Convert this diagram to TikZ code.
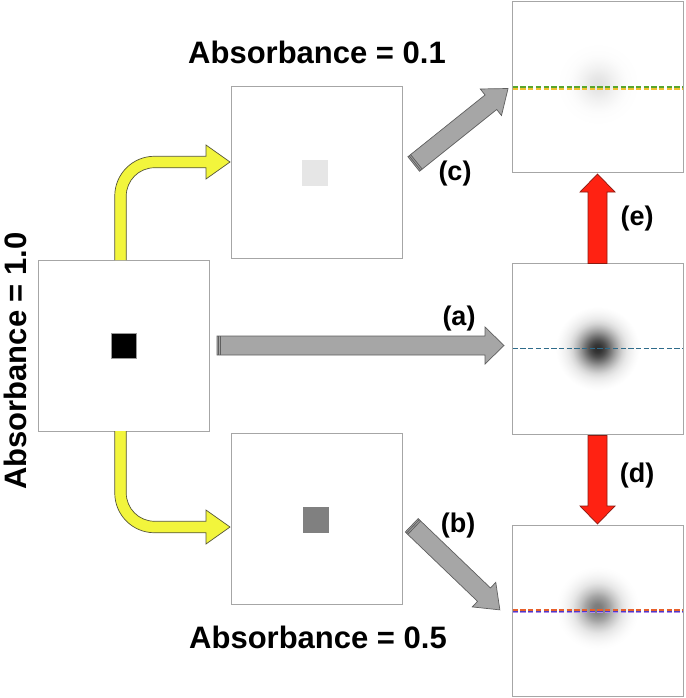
\documentclass[tikz,border=0pt]{standalone}
\usepackage{fontspec}
\setmainfont{Liberation Sans}
\usetikzlibrary{calc}
\definecolor{panelgray}{HTML}{A6A6A6}
\definecolor{arrgray}{HTML}{A6A6A6}
\definecolor{arredge}{HTML}{5F5F5F}
\definecolor{redfill}{HTML}{FF2212}
\definecolor{rededge}{HTML}{8B1A10}
\definecolor{yelfill}{HTML}{F2F53C}
\definecolor{yeledge}{HTML}{55553A}
\definecolor{lgreen}{HTML}{58A62E}
\definecolor{lyellow}{HTML}{F0C030}
\definecolor{lteal}{HTML}{2E6B8A}
\definecolor{lorange}{HTML}{E8602A}
\definecolor{lblue}{HTML}{4B3CC8}
\definecolor{llav}{HTML}{B08CE8}
\definecolor{sqlight}{HTML}{E6E6E6}
\definecolor{sqmid}{HTML}{808080}
\pgfdeclareradialshading{blobdark}{\pgfpoint{0bp}{0bp}}{color(0bp)=(black!83); color(2.5bp)=(black!79); color(5bp)=(black!69); color(7.5bp)=(black!55); color(10bp)=(black!40); color(12.5bp)=(black!27); color(15bp)=(black!16); color(17.5bp)=(black!9); color(20bp)=(black!5); color(22.5bp)=(black!2); color(25bp)=(white); color(50bp)=(white)}
\pgfdeclareradialshading{blobmid}{\pgfpoint{0bp}{0bp}}{color(0bp)=(black!52); color(2.5bp)=(black!50); color(5bp)=(black!43); color(7.5bp)=(black!35); color(10bp)=(black!25); color(12.5bp)=(black!17); color(15bp)=(black!10); color(17.5bp)=(black!6); color(20bp)=(black!3); color(22.5bp)=(black!1); color(25bp)=(white); color(50bp)=(white)}
\pgfdeclareradialshading{blobfaint}{\pgfpoint{0bp}{0bp}}{color(0bp)=(black!11); color(2.5bp)=(black!10.5); color(5bp)=(black!9); color(7.5bp)=(black!7); color(10bp)=(black!5); color(12.5bp)=(black!3.5); color(15bp)=(black!2); color(17.5bp)=(black!1); color(20bp)=(black!0.6); color(22.5bp)=(black!0.3); color(25bp)=(white); color(50bp)=(white)}
\tikzset{
  panel/.style={draw=panelgray, line width=1pt, fill=white, minimum size=171pt, inner sep=0pt, outer sep=0pt},
  sqbox/.style={draw=black!40, line width=0.5pt, minimum size=25pt, inner sep=0pt, outer sep=0pt},
  grayarr/.style={fill=arrgray, draw=arredge, line width=0.7pt},
  redarr/.style={fill=redfill, draw=rededge, line width=0.7pt},
  yelarr/.style={fill=yelfill, draw=yeledge, line width=0.7pt},
  stripe/.style={draw=arredge, line width=0.8pt},
  title/.style={font=\fontsize{31}{36}\selectfont\bfseries, inner sep=0pt},
  lab/.style={font=\fontsize{27}{32}\selectfont\bfseries, inner sep=0pt},
  dashline/.style={dash pattern=on 5.3pt off 2.4pt}
}
\newcommand\blockarrow[7]{%
  \path (#1); \pgfgetlastxy{\bax}{\bay}%
  \path (#2); \pgfgetlastxy{\bbx}{\bby}%
  \pgfmathsetmacro\baang{atan2((\bby)-(\bay),(\bbx)-(\bax))}%
  \pgfmathsetmacro\balen{veclen((\bbx)-(\bax),(\bby)-(\bay))}%
  \pgfmathsetmacro\babase{\balen-#5}%
  \begin{scope}[shift={(#1)},rotate=\baang]
    \filldraw[#6] (0,-#3) -- (\babase,-#3) -- (\babase,-#4) -- (\balen,0) -- (\babase,#4) -- (\babase,#3) -- (0,#3) -- cycle;
    \ifnum#7=1 \draw[stripe] (1.6,-#3) -- (1.6,#3) (3.4,-#3) -- (3.4,#3);\fi
  \end{scope}}
\begin{document}
\begin{tikzpicture}[x=1pt,y=-1pt]
\useasboundingbox (0,0) rectangle (685,698);
% panels
\node[panel] (L)  at (123.75,345.5) {};
\node[panel] (Mt) at (316.5,172.5) {};
\node[panel] (Mb) at (316.5,518.5) {};
\node[panel] (Rt) at (597.75,87) {};
\node[panel] (Rm) at (597.75,348.5) {};
\node[panel] (Rb) at (597.75,610.5) {};
% squares
\node[sqbox, fill=black] (Lsq) at (124,345.5) {};
\node[sqbox, fill=sqlight, draw=sqlight] (Mtsq) at (315,173) {};
\node[sqbox, fill=sqmid, draw=sqmid] (Mbsq) at (316,519.5) {};
% blobs
\shade[shading=blobfaint] (598,84) circle (42pt);
\shade[shading=blobdark] (597.5,348.5) circle (42pt);
\shade[shading=blobmid] (597.5,608) circle (42pt);
% dashed lines
\draw[dashline, lyellow, line width=2pt] ($(Rt.west)+(0.5,2)$) -- ($(Rt.east)+(0,2)$);
\draw[dashline, lgreen, line width=2pt] ($(Rt.west)+(0.5,0)$) -- ($(Rt.east)+(0,0)$);
\draw[dashline, lteal, line width=1.8pt] ($(Rm.west)+(0.5,0)$) -- (Rm.east);
\draw[dashline, llav, line width=1.4pt] ($(Rb.west)+(0.5,2.1)$) -- ($(Rb.east)+(0,2.1)$);
\draw[dashline, lblue, line width=1.4pt] ($(Rb.west)+(0.5,0.8)$) -- ($(Rb.east)+(0,0.8)$);
\draw[dashline, lorange, line width=1.4pt] ($(Rb.west)+(0.5,-0.6)$) -- ($(Rb.east)+(0,-0.6)$);
% yellow curved arrows
\path[yelarr, draw=none] (114.75,260) -- (114.75,196) arc[start angle=180,end angle=270,radius=39.75] -- (206,156.25) -- (206,145) -- (230,162) -- (206,179) -- (206,167.75) -- (154.5,167.75) arc[start angle=270,end angle=180,radius=28.25] -- (126.25,260) -- cycle;
\draw[yelarr, fill=none] (114.75,260) -- (114.75,196) arc[start angle=180,end angle=270,radius=39.75] -- (206,156.25) -- (206,145) -- (230,162) -- (206,179) -- (206,167.75) -- (154.5,167.75) arc[start angle=270,end angle=180,radius=28.25] -- (126.25,260);
\path[yelarr, draw=none] (114.75,431) -- (114.75,493) arc[start angle=180,end angle=90,radius=39.75] -- (206,532.75) -- (206,544) -- (230,527) -- (206,510) -- (206,521.25) -- (154.5,521.25) arc[start angle=90,end angle=180,radius=28.25] -- (126.25,431) -- cycle;
\draw[yelarr, fill=none] (114.75,431) -- (114.75,493) arc[start angle=180,end angle=90,radius=39.75] -- (206,532.75) -- (206,544) -- (230,527) -- (206,510) -- (206,521.25) -- (154.5,521.25) arc[start angle=90,end angle=180,radius=28.25] -- (126.25,431);
% gray arrows
\coordinate (aS) at (217,345.5);
\coordinate (aE) at (504,345.5);
\coordinate (cS) at (413.7,164);
\coordinate (cE) at (508.3,88.3);
\coordinate (bS) at (411.7,525.3);
\coordinate (bE) at (500,610);
\blockarrow{aS}{aE}{9.5}{18.5}{19}{grayarr}{1}
\blockarrow{cS}{cE}{9.3}{17}{22}{grayarr}{1}
\blockarrow{bS}{bE}{9.3}{17}{22}{grayarr}{1}
% red arrows
\coordinate (eS) at (597.5,263.5);
\coordinate (eE) at (597.5,174);
\coordinate (dS) at (597.5,435.5);
\coordinate (dE) at (597.5,524);
\blockarrow{eS}{eE}{9.5}{17.5}{18}{redarr}{0}
\blockarrow{dS}{dE}{9.5}{17.5}{18}{redarr}{0}
% labels
\node[lab] (la) at (459,319) {(a)};
\node[lab] (lb) at (458,526) {(b)};
\node[lab] (lc) at (455,174) {(c)};
\node[lab] (ld) at (637,476) {(d)};
\node[lab] (le) at (637,219) {(e)};
% titles
\node[title, anchor=base] (t1) at (317,64) {Absorbance = 0.1};
\node[title, anchor=base] (t5) at (318,648) {Absorbance = 0.5};
\node[title, anchor=base, rotate=90] (t10) at (27,361) {Absorbance = 1.0};
\end{tikzpicture}
\end{document}
